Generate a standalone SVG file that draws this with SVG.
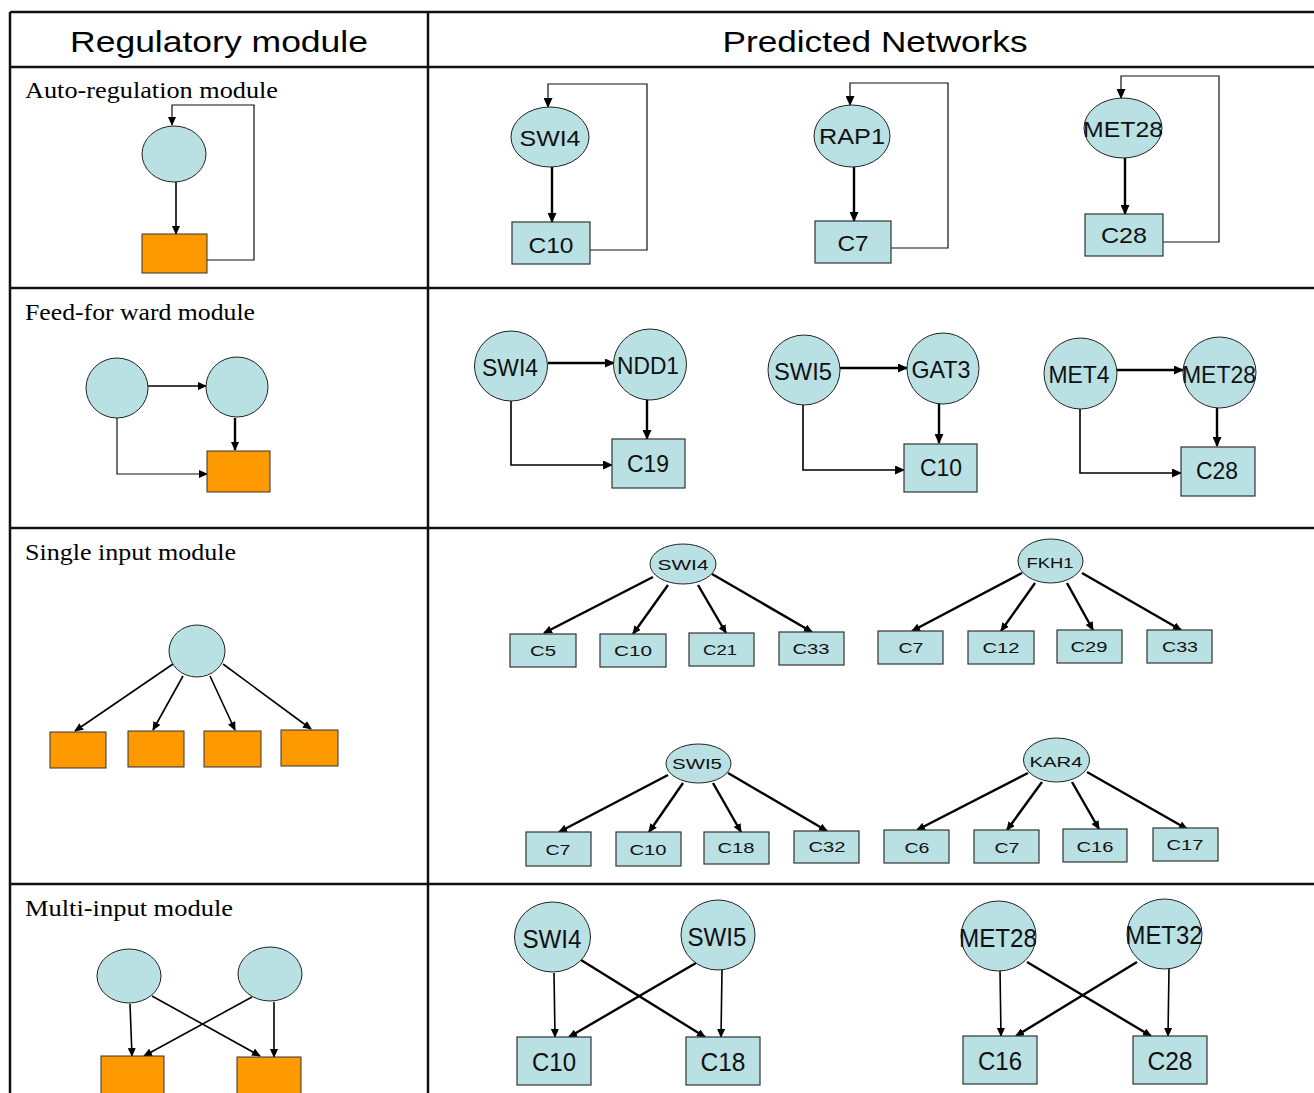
<svg xmlns="http://www.w3.org/2000/svg" width="1314" height="1093" viewBox="0 0 1314 1093">
<style>
.grid{stroke:#111;stroke-width:2.5;fill:none}
.el{fill:#b9e0e3;stroke:#222;stroke-width:1}
.bx{fill:#b9e0e3;stroke:#333;stroke-width:1.2}
.or{fill:#ff9900;stroke:#333;stroke-width:1}
.hd{font-family:"Liberation Sans",Arial,sans-serif;font-size:30px;fill:#000;text-anchor:middle}
.rl{font-family:"Liberation Serif","Times New Roman",serif;font-size:23px;fill:#000}
.t{font-family:"Liberation Sans",Arial,sans-serif;fill:#111;text-anchor:middle}
.a{font-size:22px}.f{font-size:24px}.s{font-size:15px}.m{font-size:25px}
.c{stroke:#000;stroke-width:2.4;fill:none}
.cl{stroke:#000;stroke-width:1.6;fill:none}
.th{stroke:#111;stroke-width:1.2;fill:none}
</style>
<defs>
<marker id="ah" markerUnits="userSpaceOnUse" markerWidth="10" markerHeight="9" refX="9" refY="4.5" orient="auto"><path d="M0,0 L10,4.5 L0,9 z" fill="#000"/></marker>
<marker id="as" markerUnits="userSpaceOnUse" markerWidth="9" markerHeight="8" refX="8" refY="4" orient="auto"><path d="M0,0 L9,4 L0,8 z" fill="#000"/></marker>
</defs>
<rect width="1314" height="1093" fill="#fff"/>
<g id="table">
<path class="grid" d="M10,12 H1314 M10,67 H1314 M10,288 H1314 M10,528 H1314 M10,884 H1314 M10,12 V1093 M428,12 V1093"/>
<text class="hd" x="219" y="52" textLength="298" lengthAdjust="spacingAndGlyphs">Regulatory module</text>
<text class="hd" x="875" y="52" textLength="305" lengthAdjust="spacingAndGlyphs">Predicted Networks</text>
<text class="rl" x="25" y="98" textLength="253" lengthAdjust="spacingAndGlyphs">Auto-regulation module</text>
<text class="rl" x="25" y="320" textLength="230" lengthAdjust="spacingAndGlyphs">Feed-for ward module</text>
<text class="rl" x="25" y="560" textLength="211" lengthAdjust="spacingAndGlyphs">Single input module</text>
<text class="rl" x="25" y="916" textLength="208" lengthAdjust="spacingAndGlyphs">Multi-input module</text>
</g>
<g id="connectors">
<path class="th" d="M207,260 H254 V105 H172 V125" marker-end="url(#as)"/>
<path class="cl" d="M176,182 V234" marker-end="url(#as)"/>
<path class="cl" d="M148,386 H206" marker-end="url(#as)"/>
<path class="c" d="M235,418 V450" marker-end="url(#as)"/>
<path class="th" d="M117,418 V474 H207" marker-end="url(#as)"/>
<path class="cl" d="M173,664 L75,731" marker-end="url(#as)"/>
<path class="cl" d="M183,676 L153,730" marker-end="url(#as)"/>
<path class="cl" d="M210,676 L235,730" marker-end="url(#as)"/>
<path class="cl" d="M223,664 L311,729" marker-end="url(#as)"/>
<path class="cl" d="M130,1004 L132,1056" marker-end="url(#as)"/>
<path class="cl" d="M152,996 L260,1056" marker-end="url(#as)"/>
<path class="cl" d="M252,997 L144,1056" marker-end="url(#as)"/>
<path class="cl" d="M274,1002 L274,1057" marker-end="url(#as)"/>
<path class="c" d="M552,167 V222" marker-end="url(#ah)"/>
<path class="th" d="M590,250 H647 V84 H548 V107" marker-end="url(#ah)"/>
<path class="c" d="M854,167 V221" marker-end="url(#ah)"/>
<path class="th" d="M891,248 H948 V83 H850 V105" marker-end="url(#ah)"/>
<path class="c" d="M1125,158 V214" marker-end="url(#ah)"/>
<path class="th" d="M1163,242 H1219 V76 H1121 V98" marker-end="url(#ah)"/>
<path class="c" d="M548,363 H614" marker-end="url(#ah)"/>
<path class="c" d="M647,400 V439" marker-end="url(#ah)"/>
<path class="cl" d="M511,401 V465 H612" marker-end="url(#ah)"/>
<path class="c" d="M840,368 H907" marker-end="url(#ah)"/>
<path class="c" d="M939,404 V443" marker-end="url(#ah)"/>
<path class="cl" d="M803,405 V470 H904" marker-end="url(#ah)"/>
<path class="c" d="M1117,370 H1183" marker-end="url(#ah)"/>
<path class="c" d="M1217,408 V446" marker-end="url(#ah)"/>
<path class="cl" d="M1080,409 V473 H1181" marker-end="url(#ah)"/>
<path class="c" d="M653,577 L544,633" marker-end="url(#as)"/>
<path class="c" d="M668,585 L633,634" marker-end="url(#as)"/>
<path class="c" d="M698,585 L726,633" marker-end="url(#as)"/>
<path class="c" d="M712,574 L812,632" marker-end="url(#as)"/>
<path class="c" d="M1022,573 L912,631" marker-end="url(#as)"/>
<path class="c" d="M1035,583 L1001,631" marker-end="url(#as)"/>
<path class="c" d="M1067,583 L1093,630" marker-end="url(#as)"/>
<path class="c" d="M1082,573 L1181,630" marker-end="url(#as)"/>
<path class="c" d="M668,775 L559,832" marker-end="url(#as)"/>
<path class="c" d="M683,783 L649,832" marker-end="url(#as)"/>
<path class="c" d="M713,783 L741,832" marker-end="url(#as)"/>
<path class="c" d="M728,773 L827,831" marker-end="url(#as)"/>
<path class="c" d="M1028,773 L917,830" marker-end="url(#as)"/>
<path class="c" d="M1042,782 L1007,830" marker-end="url(#as)"/>
<path class="c" d="M1072,782 L1099,829" marker-end="url(#as)"/>
<path class="c" d="M1087,772 L1187,829" marker-end="url(#as)"/>
<path class="cl" d="M554,973 L555,1037" marker-end="url(#as)"/>
<path class="c" d="M581,960 L705,1037" marker-end="url(#as)"/>
<path class="c" d="M696,963 L569,1037" marker-end="url(#as)"/>
<path class="cl" d="M722,970 L721,1037" marker-end="url(#as)"/>
<path class="cl" d="M1000,970 L1001,1036" marker-end="url(#as)"/>
<path class="c" d="M1027,962 L1151,1036" marker-end="url(#as)"/>
<path class="c" d="M1137,962 L1016,1036" marker-end="url(#as)"/>
<path class="cl" d="M1169,968 L1168,1036" marker-end="url(#as)"/>
</g>
<g id="tpl-auto-reg"><ellipse class="el" cx="174" cy="154" rx="32" ry="28"/></g>
<g id="tpl-auto-tgt"><rect class="or" x="142" y="234" width="65" height="39"/></g>
<g id="tpl-ff-reg1"><ellipse class="el" cx="117" cy="388" rx="31" ry="30"/></g>
<g id="tpl-ff-reg2"><ellipse class="el" cx="237" cy="387" rx="31" ry="30"/></g>
<g id="tpl-ff-tgt"><rect class="or" x="207" y="451" width="63" height="41"/></g>
<g id="tpl-si-reg"><ellipse class="el" cx="197" cy="651" rx="28" ry="26"/></g>
<g id="tpl-si-t1"><rect class="or" x="50" y="732" width="56" height="36"/></g>
<g id="tpl-si-t2"><rect class="or" x="128" y="731" width="56" height="36"/></g>
<g id="tpl-si-t3"><rect class="or" x="204" y="731" width="57" height="36"/></g>
<g id="tpl-si-t4"><rect class="or" x="281" y="730" width="57" height="36"/></g>
<g id="tpl-mi-reg1"><ellipse class="el" cx="129" cy="976" rx="32" ry="27"/></g>
<g id="tpl-mi-reg2"><ellipse class="el" cx="270" cy="974" rx="32" ry="27"/></g>
<g id="tpl-mi-t1"><rect class="or" x="101" y="1056" width="63" height="45"/></g>
<g id="tpl-mi-t2"><rect class="or" x="237" y="1057" width="64" height="45"/></g>
<g id="ar-swi4"><ellipse class="el" cx="550" cy="137" rx="39" ry="30"/><text class="t a" x="550" y="146" textLength="61" lengthAdjust="spacingAndGlyphs">SWI4</text></g>
<g id="ar-c10"><rect class="bx" x="512" y="222" width="78" height="42"/><text class="t a" x="551" y="253" textLength="45" lengthAdjust="spacingAndGlyphs">C10</text></g>
<g id="ar-rap1"><ellipse class="el" cx="852" cy="136" rx="38" ry="31"/><text class="t a" x="852" y="144" textLength="66" lengthAdjust="spacingAndGlyphs">RAP1</text></g>
<g id="ar-c7"><rect class="bx" x="815" y="221" width="76" height="42"/><text class="t a" x="853" y="251" textLength="31" lengthAdjust="spacingAndGlyphs">C7</text></g>
<g id="ar-met28"><ellipse class="el" cx="1123" cy="128" rx="39" ry="30"/><text class="t a" x="1123" y="137" textLength="80" lengthAdjust="spacingAndGlyphs">MET28</text></g>
<g id="ar-c28"><rect class="bx" x="1085" y="214" width="78" height="42"/><text class="t a" x="1124" y="243" textLength="46" lengthAdjust="spacingAndGlyphs">C28</text></g>
<g id="ff-swi4"><ellipse class="el" cx="511" cy="366" rx="36.5" ry="35"/><text class="t f" x="510" y="376" textLength="56" lengthAdjust="spacingAndGlyphs">SWI4</text></g>
<g id="ff-ndd1"><ellipse class="el" cx="650" cy="364.5" rx="36.5" ry="35.5"/><text class="t f" x="648" y="374" textLength="62" lengthAdjust="spacingAndGlyphs">NDD1</text></g>
<g id="ff-c19"><rect class="bx" x="612" y="439" width="73" height="49"/><text class="t f" x="648" y="472" textLength="42" lengthAdjust="spacingAndGlyphs">C19</text></g>
<g id="ff-swi5"><ellipse class="el" cx="804" cy="370" rx="36" ry="35"/><text class="t f" x="803" y="380" textLength="58" lengthAdjust="spacingAndGlyphs">SWI5</text></g>
<g id="ff-gat3"><ellipse class="el" cx="943" cy="368.5" rx="36" ry="35.5"/><text class="t f" x="941" y="378" textLength="59" lengthAdjust="spacingAndGlyphs">GAT3</text></g>
<g id="ff-c10"><rect class="bx" x="904" y="444" width="73" height="48"/><text class="t f" x="941" y="476" textLength="42" lengthAdjust="spacingAndGlyphs">C10</text></g>
<g id="ff-met4"><ellipse class="el" cx="1080.5" cy="373.5" rx="36.5" ry="35.5"/><text class="t f" x="1079" y="383" textLength="61" lengthAdjust="spacingAndGlyphs">MET4</text></g>
<g id="ff-met28"><ellipse class="el" cx="1219.5" cy="372.5" rx="36.5" ry="35.5"/><text class="t f" x="1219" y="383" textLength="74" lengthAdjust="spacingAndGlyphs">MET28</text></g>
<g id="ff-c28"><rect class="bx" x="1181" y="447" width="74" height="49"/><text class="t f" x="1217" y="479" textLength="42" lengthAdjust="spacingAndGlyphs">C28</text></g>
<g id="si-swi4"><ellipse class="el" cx="683" cy="564" rx="33" ry="20"/><text class="t s" x="683" y="570" textLength="51" lengthAdjust="spacingAndGlyphs">SWI4</text></g>
<g id="si-c5"><rect class="bx" x="510" y="634" width="66" height="33"/><text class="t s" x="543" y="656" textLength="26" lengthAdjust="spacingAndGlyphs">C5</text></g>
<g id="si-c10a"><rect class="bx" x="600" y="634" width="66" height="33"/><text class="t s" x="633" y="656" textLength="38" lengthAdjust="spacingAndGlyphs">C10</text></g>
<g id="si-c21"><rect class="bx" x="689" y="633" width="65" height="33"/><text class="t s" x="720" y="655" textLength="34" lengthAdjust="spacingAndGlyphs">C21</text></g>
<g id="si-c33a"><rect class="bx" x="779" y="632" width="65" height="33"/><text class="t s" x="811" y="654" textLength="37" lengthAdjust="spacingAndGlyphs">C33</text></g>
<g id="si-fkh1"><ellipse class="el" cx="1050.5" cy="561" rx="32.5" ry="22"/><text class="t s" x="1050" y="568" textLength="47" lengthAdjust="spacingAndGlyphs">FKH1</text></g>
<g id="si-c7a"><rect class="bx" x="878" y="631" width="65" height="33"/><text class="t s" x="911" y="653" textLength="25" lengthAdjust="spacingAndGlyphs">C7</text></g>
<g id="si-c12"><rect class="bx" x="968" y="631" width="66" height="33"/><text class="t s" x="1001" y="653" textLength="37" lengthAdjust="spacingAndGlyphs">C12</text></g>
<g id="si-c29"><rect class="bx" x="1057" y="630" width="65" height="33"/><text class="t s" x="1089" y="652" textLength="37" lengthAdjust="spacingAndGlyphs">C29</text></g>
<g id="si-c33b"><rect class="bx" x="1147" y="630" width="65" height="33"/><text class="t s" x="1180" y="652" textLength="36" lengthAdjust="spacingAndGlyphs">C33</text></g>
<g id="si-swi5"><ellipse class="el" cx="698.5" cy="763.5" rx="32.5" ry="19.5"/><text class="t s" x="697" y="769" textLength="50" lengthAdjust="spacingAndGlyphs">SWI5</text></g>
<g id="si-c7b"><rect class="bx" x="526" y="832" width="65" height="34"/><text class="t s" x="558" y="855" textLength="25" lengthAdjust="spacingAndGlyphs">C7</text></g>
<g id="si-c10b"><rect class="bx" x="616" y="832" width="65" height="34"/><text class="t s" x="648" y="855" textLength="37" lengthAdjust="spacingAndGlyphs">C10</text></g>
<g id="si-c18"><rect class="bx" x="704" y="832" width="65" height="32"/><text class="t s" x="736" y="853" textLength="37" lengthAdjust="spacingAndGlyphs">C18</text></g>
<g id="si-c32"><rect class="bx" x="794" y="831" width="65" height="32"/><text class="t s" x="827" y="852" textLength="37" lengthAdjust="spacingAndGlyphs">C32</text></g>
<g id="si-kar4"><ellipse class="el" cx="1056.5" cy="760" rx="33" ry="22"/><text class="t s" x="1056" y="767" textLength="53" lengthAdjust="spacingAndGlyphs">KAR4</text></g>
<g id="si-c6"><rect class="bx" x="884" y="830" width="65" height="33"/><text class="t s" x="917" y="853" textLength="25" lengthAdjust="spacingAndGlyphs">C6</text></g>
<g id="si-c7c"><rect class="bx" x="974" y="830" width="65" height="33"/><text class="t s" x="1007" y="853" textLength="25" lengthAdjust="spacingAndGlyphs">C7</text></g>
<g id="si-c16"><rect class="bx" x="1063" y="829" width="64" height="33"/><text class="t s" x="1095" y="852" textLength="37" lengthAdjust="spacingAndGlyphs">C16</text></g>
<g id="si-c17"><rect class="bx" x="1153" y="828" width="65" height="33"/><text class="t s" x="1185" y="850" textLength="37" lengthAdjust="spacingAndGlyphs">C17</text></g>
<g id="mi-swi4"><ellipse class="el" cx="552.5" cy="937" rx="38" ry="35"/><text class="t m" x="552" y="948" textLength="59" lengthAdjust="spacingAndGlyphs">SWI4</text></g>
<g id="mi-swi5"><ellipse class="el" cx="718" cy="935" rx="37" ry="35"/><text class="t m" x="717" y="946" textLength="59" lengthAdjust="spacingAndGlyphs">SWI5</text></g>
<g id="mi-c10"><rect class="bx" x="517" y="1037" width="74" height="48"/><text class="t m" x="554" y="1071" textLength="44" lengthAdjust="spacingAndGlyphs">C10</text></g>
<g id="mi-c18"><rect class="bx" x="686" y="1037" width="74" height="48"/><text class="t m" x="723" y="1071" textLength="45" lengthAdjust="spacingAndGlyphs">C18</text></g>
<g id="mi-met28"><ellipse class="el" cx="998.5" cy="936" rx="37.5" ry="35"/><text class="t m" x="998" y="947" textLength="78" lengthAdjust="spacingAndGlyphs">MET28</text></g>
<g id="mi-met32"><ellipse class="el" cx="1164.5" cy="934" rx="37.5" ry="35"/><text class="t m" x="1164" y="944" textLength="77" lengthAdjust="spacingAndGlyphs">MET32</text></g>
<g id="mi-c16"><rect class="bx" x="963" y="1036" width="74" height="48"/><text class="t m" x="1000" y="1070" textLength="44" lengthAdjust="spacingAndGlyphs">C16</text></g>
<g id="mi-c28"><rect class="bx" x="1133" y="1036" width="74" height="48"/><text class="t m" x="1170" y="1070" textLength="45" lengthAdjust="spacingAndGlyphs">C28</text></g>
</svg>
